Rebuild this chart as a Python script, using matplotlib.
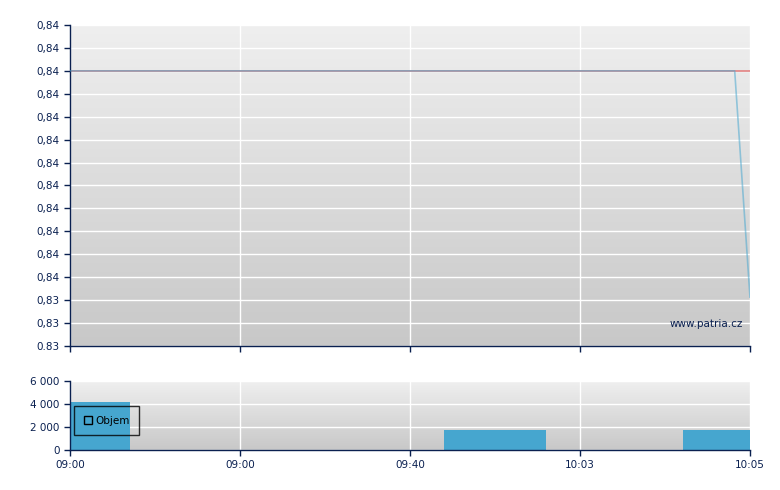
import numpy as np
import matplotlib.pyplot as plt
from matplotlib.colors import LinearSegmentedColormap
from matplotlib.lines import Line2D
from matplotlib.ticker import FuncFormatter

# osa x je podle poradi obchodu, ne podle casu
casy = ["09:00", "09:00", "09:40", "10:03", "10:05"]

cena_x = [0.0, 1.0, 2.0, 3.0, 3.91, 4.0]
cena_y = [0.84, 0.84, 0.84, 0.84, 0.84, 0.83477]
ref_cena = 0.84

objem_od = [0.0, 2.2, 3.606]
objem_do = [0.353, 2.8, 4.0]
objem = [4200, 1750, 1750]

y_ticks = 0.83364 + np.arange(15) * 0.00053
# spodni popisek ma v originale tecku
y_popisky = ["0.83"] + [f"{v:.2f}".replace(".", ",") for v in y_ticks[1:]]

navy = "#0a2050"
pozadi = LinearSegmentedColormap.from_list("pozadi", ["#c8c8c8", "#efefef"])


def priprav_osu(ax):
    grad = np.linspace(0, 1, 256).reshape(-1, 1)
    ax.imshow(grad, extent=[0, 1, 0, 1], transform=ax.transAxes, origin="lower",
              aspect="auto", cmap=pozadi, zorder=0)
    ax.set_axisbelow(True)
    ax.grid(True, color="white", linewidth=1)
    for s in ["top", "right"]:
        ax.spines[s].set_visible(False)
    for s in ["left", "bottom"]:
        ax.spines[s].set_color(navy)
        ax.spines[s].set_linewidth(1)
    ax.tick_params(colors=navy, labelsize=7.5, length=4, width=1)


fig = plt.figure(figsize=(7.8, 4.9), dpi=100)

ax = fig.add_axes([70 / 780, 1 - 346 / 490, 680 / 780, 321 / 490])
priprav_osu(ax)
ax.axhline(ref_cena, color="#e08080", linewidth=1.2, zorder=2)
ax.plot(cena_x, cena_y, color="#4aa8d0", linewidth=1.2, alpha=0.55, zorder=3)
ax.set_xlim(0, 4)
ax.set_ylim(y_ticks[0], y_ticks[-1])
ax.set_yticks(y_ticks)
ax.set_yticklabels(y_popisky)
ax.set_xticks(range(len(casy)))
ax.set_xticklabels([])
ax.text(0.99, 0.07, "www.patria.cz", transform=ax.transAxes, ha="right", va="center",
        color=navy, fontsize=7.5, zorder=4)

ax2 = fig.add_axes([70 / 780, 1 - 450 / 490, 680 / 780, 69 / 490])
priprav_osu(ax2)
sirky = [b - a for a, b in zip(objem_od, objem_do)]
ax2.bar(objem_od, objem, width=sirky, align="edge", color="#46a6cf", zorder=2)
ax2.set_xlim(0, 4)
ax2.set_ylim(0, 6000)
ax2.set_yticks([0, 2000, 4000, 6000])
ax2.yaxis.set_major_formatter(FuncFormatter(lambda v, p: f"{int(v):,}".replace(",", " ")))
ax2.set_xticks(range(len(casy)))
ax2.set_xticklabels(casy)

handle = Line2D([], [], marker="s", linestyle="none", markerfacecolor="none",
                markeredgecolor="black", markersize=6)
leg = ax2.legend([handle], ["Objem"], loc="upper left", bbox_to_anchor=(0.002, 0.68),
                 fontsize=7.5, frameon=True, fancybox=False, handlelength=0.8,
                 handletextpad=0.3, borderpad=0.9, borderaxespad=0.3)
leg.get_frame().set_edgecolor("black")
leg.get_frame().set_facecolor("none")
leg.get_frame().set_linewidth(1)

plt.savefig("out.png", dpi=100)
